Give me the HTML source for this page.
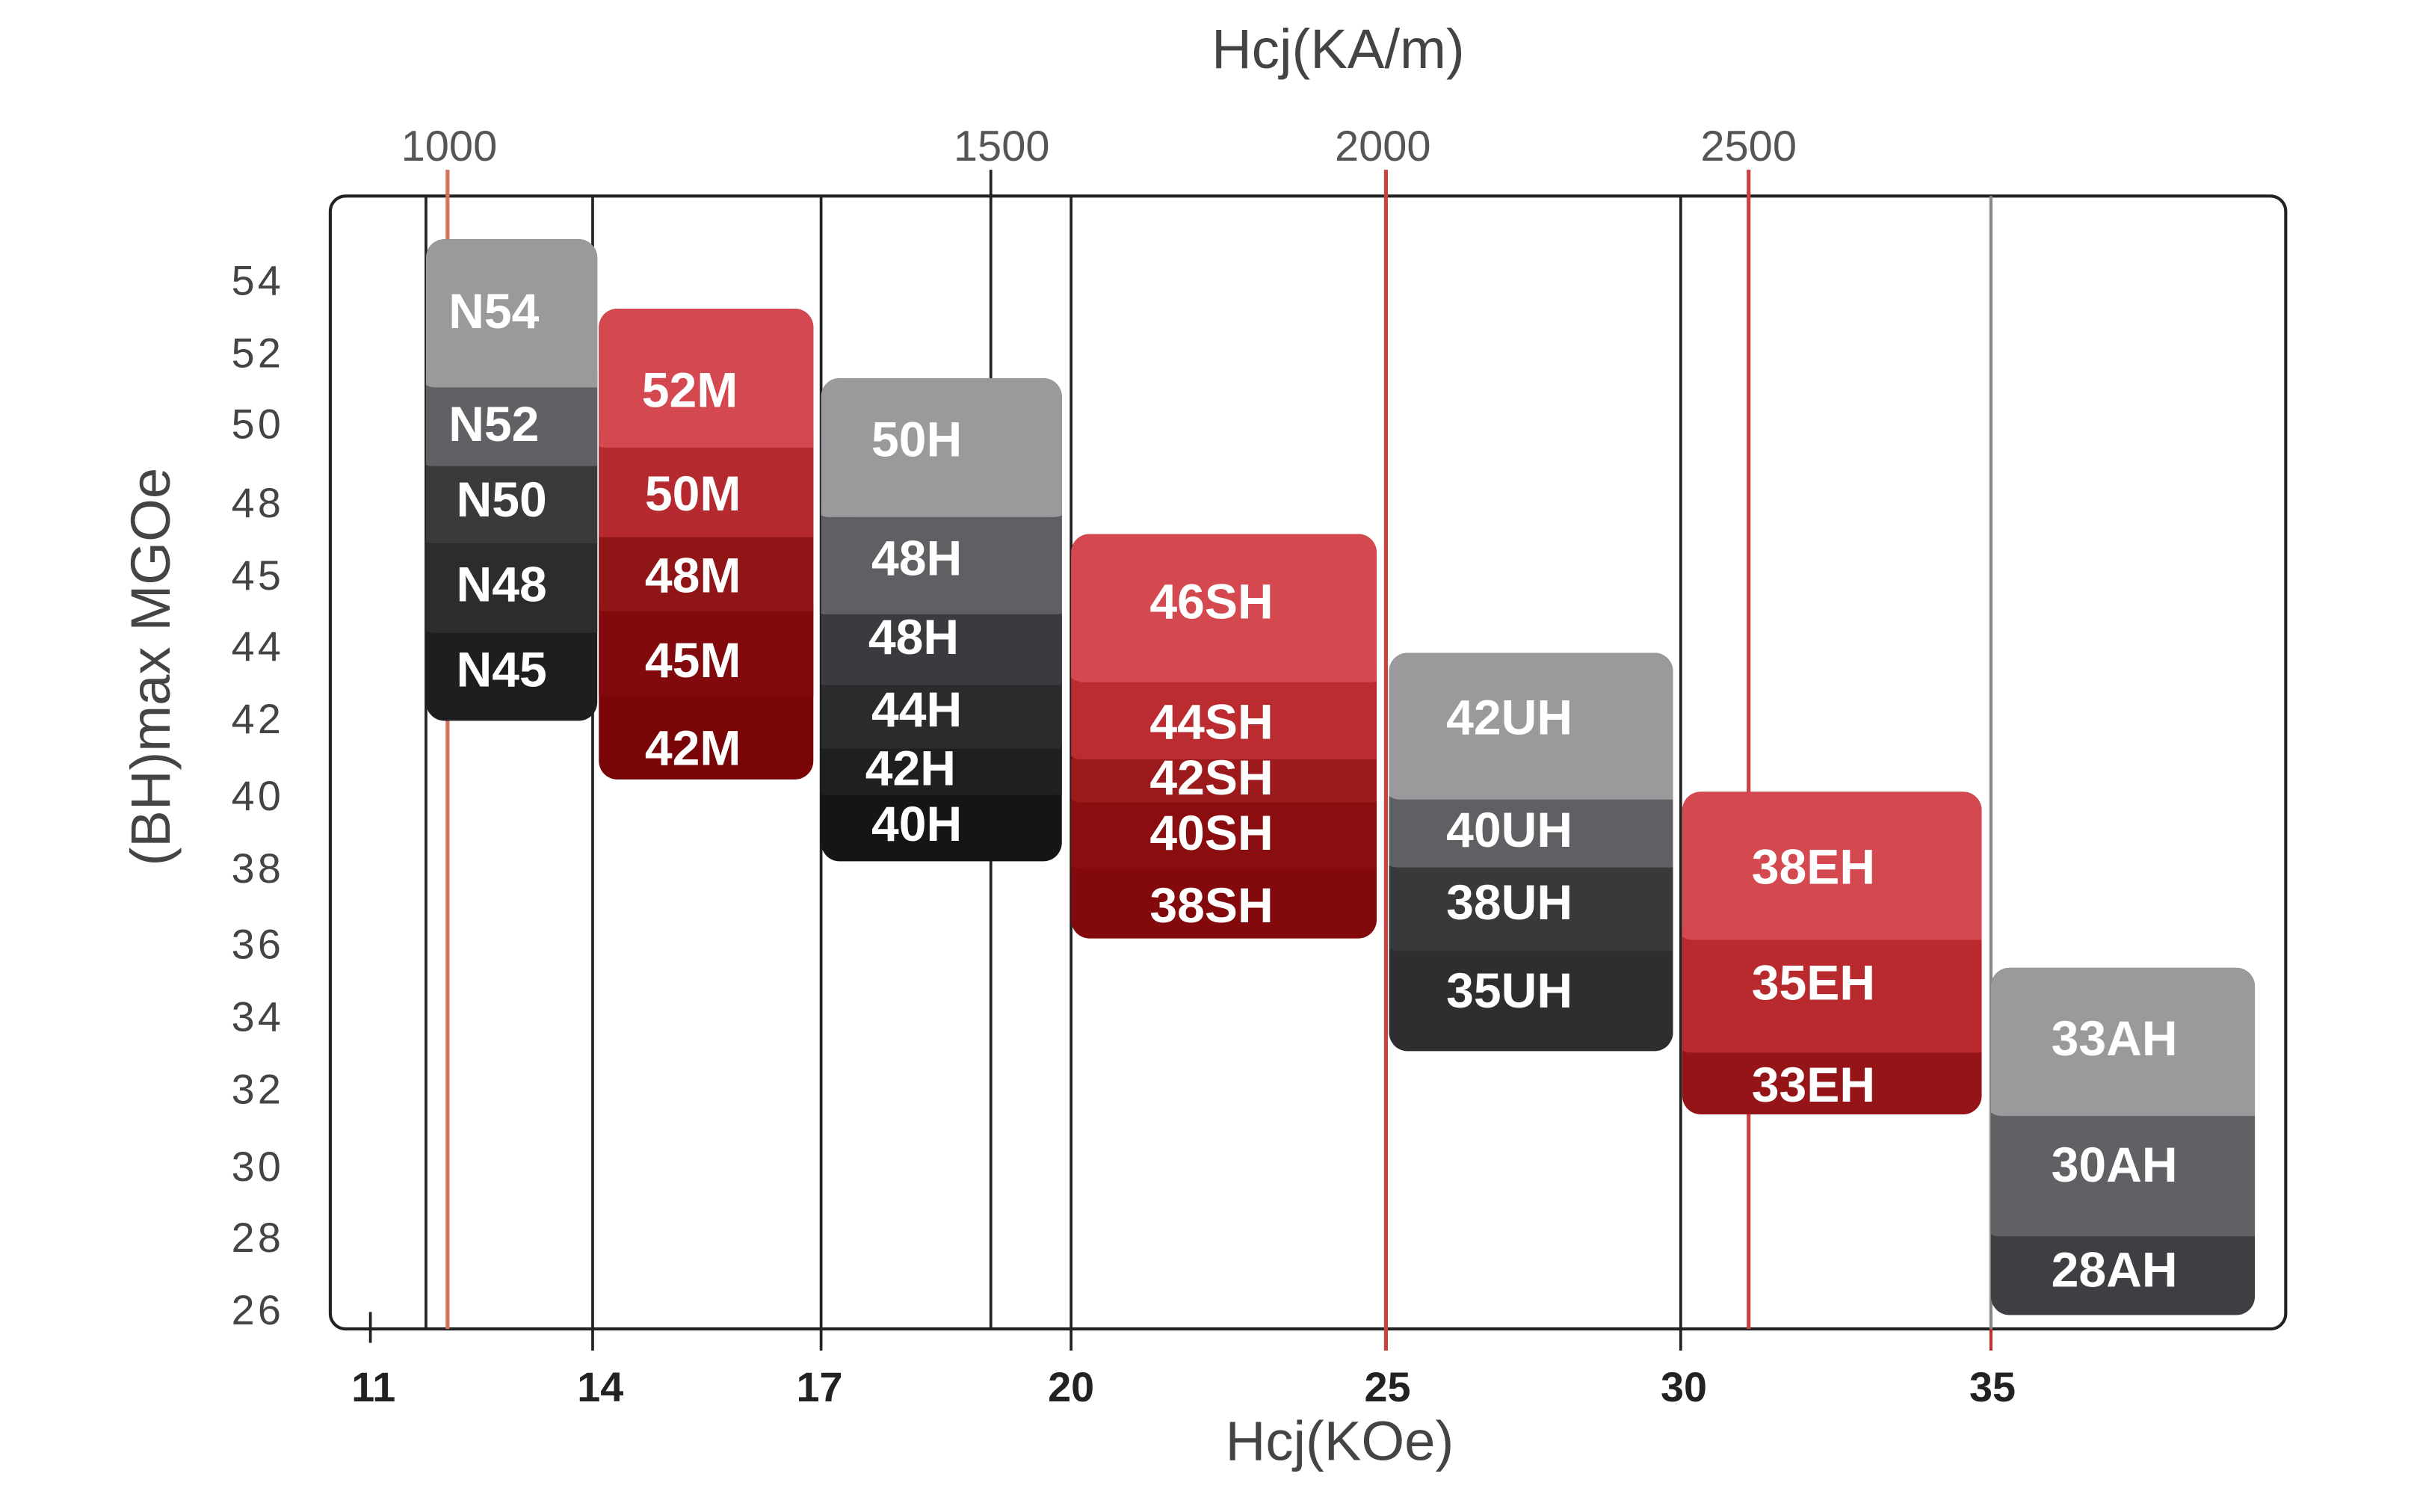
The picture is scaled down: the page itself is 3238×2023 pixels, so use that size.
<!DOCTYPE html>
<html><head><meta charset="utf-8"><style>
html,body{margin:0;padding:0;background:#fff;}
svg{display:block;}
text{font-family:"Liberation Sans",sans-serif;}
.y{font-size:27px;fill:#444;text-anchor:end;letter-spacing:2px;}
.t{font-size:28px;fill:#555;text-anchor:middle;}
.b{font-size:27px;fill:#222;font-weight:bold;text-anchor:middle;}
.l{font-size:32px;fill:#fff;font-weight:bold;text-anchor:middle;dominant-baseline:central;}
</style></head><body>
<svg width="3238" height="2023" viewBox="0 0 1568 979.6" preserveAspectRatio="none" xmlns="http://www.w3.org/2000/svg">
<rect width="1568" height="980" fill="#fff"/>
<text x="867" y="44" font-size="36" fill="#444" text-anchor="middle">Hcj(KA/m)</text>
<text x="291" y="104" class="t">1000</text>
<text x="649" y="104" class="t">1500</text>
<text x="896" y="104" class="t">2000</text>
<text x="1133" y="104" class="t">2500</text>
<rect x="214" y="127" width="1267" height="734" rx="10" fill="none" stroke="#222" stroke-width="2"/>
<g stroke="#222" stroke-width="1.8">
<line x1="276" y1="127" x2="276" y2="861"/>
<line x1="384" y1="127" x2="384" y2="875"/>
<line x1="532" y1="127" x2="532" y2="875"/>
<line x1="642" y1="110" x2="642" y2="861"/>
<line x1="694" y1="127" x2="694" y2="875"/>
<line x1="1089" y1="127" x2="1089" y2="875"/>
<line x1="240" y1="850" x2="240" y2="870"/>
</g>
<line x1="1290" y1="127" x2="1290" y2="861" stroke="#888" stroke-width="2"/>
<line x1="1290" y1="861" x2="1290" y2="875" stroke="#b33" stroke-width="2"/>
<g stroke="#c9423e" stroke-width="2.5">
<line x1="290" y1="110" x2="290" y2="861" stroke="#d97060"/>
<line x1="898" y1="110" x2="898" y2="875"/>
<line x1="1133" y1="110" x2="1133" y2="861"/>
</g>
<g class="y">
<text x="184" y="191" class="y">54</text><text x="184" y="238" class="y">52</text>
<text x="184" y="284" class="y">50</text><text x="184" y="335" class="y">48</text>
<text x="184" y="382" class="y">45</text><text x="184" y="428" class="y">44</text>
<text x="184" y="475" class="y">42</text><text x="184" y="525" class="y">40</text>
<text x="184" y="572" class="y">38</text><text x="184" y="621" class="y">36</text>
<text x="184" y="668" class="y">34</text><text x="184" y="715" class="y">32</text>
<text x="184" y="765" class="y">30</text><text x="184" y="811" class="y">28</text>
<text x="184" y="858" class="y">26</text>
</g>
<text transform="translate(110,432) rotate(-90)" font-size="36" fill="#444" text-anchor="middle">(BH)max MGOe</text>
<g>
<text x="242" y="908" class="b">11</text><text x="389" y="908" class="b">14</text>
<text x="531" y="908" class="b">17</text><text x="694" y="908" class="b">20</text>
<text x="899" y="908" class="b">25</text><text x="1091" y="908" class="b">30</text>
<text x="1291" y="908" class="b">35</text>
</g>
<text x="868" y="946" font-size="36" fill="#444" text-anchor="middle">Hcj(KOe)</text>
<defs>
<clipPath id="c1"><rect x="276" y="155" width="111" height="312" rx="12"/></clipPath>
<clipPath id="c2"><rect x="388" y="200" width="139" height="305" rx="12"/></clipPath>
<clipPath id="c3"><rect x="532" y="245" width="156" height="313" rx="12"/></clipPath>
<clipPath id="c4"><rect x="694" y="346" width="198" height="262" rx="12"/></clipPath>
<clipPath id="c5"><rect x="900" y="423" width="184" height="258" rx="12"/></clipPath>
<clipPath id="c6"><rect x="1090" y="513" width="194" height="209" rx="12"/></clipPath>
<clipPath id="c7"><rect x="1290" y="627" width="171" height="225" rx="12"/></clipPath>
</defs>
<g clip-path="url(#c1)">
<rect x="270" y="150" width="130" height="330" fill="#1e1e20"/>
<rect x="270" y="348" width="130" height="62" rx="10" fill="#2c2c2e"/>
<rect x="270" y="300" width="130" height="52" rx="10" fill="#3a3a3c"/>
<rect x="270" y="240" width="130" height="62" rx="10" fill="#606164"/>
<rect x="270" y="150" width="130" height="101" rx="12" fill="#9a9a9c"/>
</g>
<g clip-path="url(#c2)">
<rect x="380" y="190" width="160" height="330" fill="#7a0508"/>
<rect x="380" y="393" width="160" height="58" rx="10" fill="#820a0c"/>
<rect x="380" y="346" width="160" height="50" rx="10" fill="#8f1517"/>
<rect x="380" y="280" width="160" height="68" rx="10" fill="#b52a2e"/>
<rect x="380" y="190" width="160" height="100" rx="12" fill="#d44850"/>
</g>
<g clip-path="url(#c3)">
<rect x="525" y="240" width="170" height="330" fill="#151517"/>
<rect x="525" y="482" width="170" height="33" rx="10" fill="#1f1f21"/>
<rect x="525" y="441" width="170" height="44" rx="10" fill="#2b2b2d"/>
<rect x="525" y="396" width="170" height="48" rx="10" fill="#3a3b3e"/>
<rect x="525" y="325" width="170" height="73" rx="10" fill="#5e6064"/>
<rect x="525" y="240" width="170" height="95" rx="12" fill="#9a9a9c"/>
</g>
<g clip-path="url(#c4)">
<rect x="690" y="340" width="210" height="280" fill="#820a0c"/>
<rect x="690" y="517" width="210" height="46" rx="10" fill="#8a0d0f"/>
<rect x="690" y="490" width="210" height="30" rx="10" fill="#9c1a1c"/>
<rect x="690" y="432" width="210" height="60" rx="10" fill="#bb2c30"/>
<rect x="690" y="340" width="210" height="102" rx="12" fill="#d44850"/>
</g>
<g clip-path="url(#c5)">
<rect x="895" y="420" width="200" height="270" fill="#2e2e30"/>
<rect x="895" y="560" width="200" height="56" rx="10" fill="#38393b"/>
<rect x="895" y="508" width="200" height="54" rx="10" fill="#5f6063"/>
<rect x="895" y="420" width="200" height="98" rx="12" fill="#9a9a9c"/>
</g>
<g clip-path="url(#c6)">
<rect x="1085" y="510" width="210" height="220" fill="#951418"/>
<rect x="1085" y="600" width="210" height="82" rx="10" fill="#b82a2e"/>
<rect x="1085" y="510" width="210" height="99" rx="12" fill="#d44850"/>
</g>
<g clip-path="url(#c7)">
<rect x="1285" y="620" width="190" height="240" fill="#3e3f42"/>
<rect x="1285" y="713" width="190" height="88" rx="10" fill="#606165"/>
<rect x="1285" y="620" width="190" height="103" rx="12" fill="#9a9a9c"/>
</g>
<g class="l">
<text x="320" y="202" class="l">N54</text><text x="320" y="275" class="l">N52</text>
<text x="325" y="324" class="l">N50</text><text x="325" y="379" class="l">N48</text>
<text x="325" y="434" class="l">N45</text>
<text x="447" y="253" class="l">52M</text><text x="449" y="320" class="l">50M</text>
<text x="449" y="373" class="l">48M</text><text x="449" y="428" class="l">45M</text>
<text x="449" y="485" class="l">42M</text>
<text x="594" y="285" class="l">50H</text><text x="594" y="362" class="l">48H</text>
<text x="592" y="413" class="l">48H</text><text x="594" y="460" class="l">44H</text>
<text x="590" y="498" class="l">42H</text><text x="594" y="534" class="l">40H</text>
<text x="785" y="390" class="l">46SH</text><text x="785" y="468" class="l">44SH</text>
<text x="785" y="504" class="l">42SH</text><text x="785" y="540" class="l">40SH</text>
<text x="785" y="587" class="l">38SH</text>
<text x="978" y="465" class="l">42UH</text><text x="978" y="538" class="l">40UH</text>
<text x="978" y="585" class="l">38UH</text><text x="978" y="642" class="l">35UH</text>
<text x="1175" y="562" class="l">38EH</text><text x="1175" y="637" class="l">35EH</text>
<text x="1175" y="703" class="l">33EH</text>
<text x="1370" y="673" class="l">33AH</text><text x="1370" y="755" class="l">30AH</text>
<text x="1370" y="823" class="l">28AH</text>
</g>
</svg>
</body></html>
